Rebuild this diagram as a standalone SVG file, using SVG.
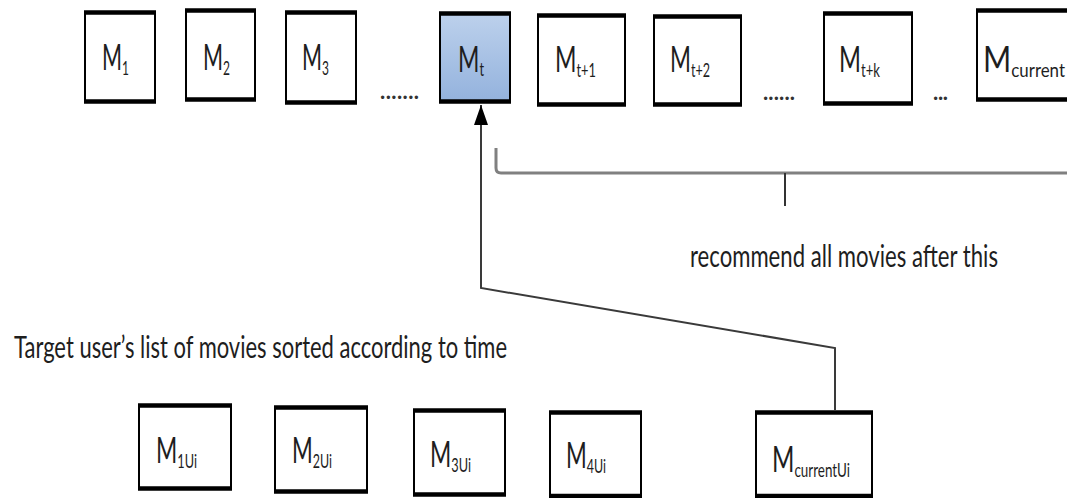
<svg xmlns="http://www.w3.org/2000/svg" width="1067" height="498" viewBox="0 0 1067 498">
  <style>
    .box { fill: #ffffff; stroke: #000000; stroke-width: 2; }
    .bar { fill: none; stroke: #000000; stroke-width: 4.5; }
    .lbl { font-family: Lato, "Open Sans", sans-serif; font-size: 36px; fill: #1e1e1e; }
    .sub { font-size: 20px; }
    .note { font-family: Lato, "Open Sans", sans-serif; font-size: 31px; fill: #1e1e1e; }
    .dots { font-family: Lato, "Open Sans", sans-serif; font-size: 22px; font-weight: bold; fill: #333333; }
    .link { fill: none; stroke: #3a3a3a; stroke-width: 2; }
    .brace { fill: none; stroke: #808080; stroke-width: 3; }
  </style>
  <defs>
    <linearGradient id="blueFill" x1="0" y1="0" x2="0" y2="1">
      <stop offset="0" stop-color="#bdd1ec"/>
      <stop offset="1" stop-color="#93b2dd"/>
    </linearGradient>
    <marker id="arrowHead" viewBox="0 0 20 14" refX="20" refY="7" markerWidth="20" markerHeight="14" markerUnits="userSpaceOnUse" orient="auto">
      <path d="M0 0 L20 7 L0 14 Z" fill="#000000"/>
    </marker>
  </defs>

  <rect width="1067" height="498" fill="#ffffff"/>

  <!-- top row: movie timeline -->
  <g id="m1">
    <rect class="box" x="85" y="12" width="70" height="90"/>
    <path class="bar" d="M84 12.5 H156 M84 101.5 H156"/>
    <text class="lbl" x="102" y="70" textLength="27" lengthAdjust="spacingAndGlyphs">M<tspan class="sub" dy="5">1</tspan></text>
  </g>
  <g id="m2">
    <rect class="box" x="186" y="10" width="69" height="90"/>
    <path class="bar" d="M185 10.5 H256 M185 99.5 H256"/>
    <text class="lbl" x="203" y="70" textLength="27" lengthAdjust="spacingAndGlyphs">M<tspan class="sub" dy="5">2</tspan></text>
  </g>
  <g id="m3">
    <rect class="box" x="286" y="12" width="70" height="91"/>
    <path class="bar" d="M285 12.5 H357 M285 102.5 H357"/>
    <text class="lbl" x="302" y="70" textLength="27" lengthAdjust="spacingAndGlyphs">M<tspan class="sub" dy="5">3</tspan></text>
  </g>
  <text class="dots" x="380" y="99" textLength="39" lengthAdjust="spacing">.......</text>
  <g id="mt">
    <rect class="box" x="440" y="13" width="70" height="89" style="fill:url(#blueFill)"/>
    <path class="bar" d="M439 13.5 H511 M439 101.5 H511"/>
    <text class="lbl" x="458" y="72" textLength="26" lengthAdjust="spacingAndGlyphs">M<tspan class="sub" dy="4">t</tspan></text>
  </g>
  <g id="mt1">
    <rect class="box" x="538" y="15" width="87" height="90"/>
    <path class="bar" d="M537 15.5 H626 M537 104.5 H626"/>
    <text class="lbl" x="555" y="72" textLength="41" lengthAdjust="spacingAndGlyphs">M<tspan class="sub" dy="5">t+1</tspan></text>
  </g>
  <g id="mt2">
    <rect class="box" x="654" y="16" width="87" height="89"/>
    <path class="bar" d="M653 16.5 H742 M653 104.5 H742"/>
    <text class="lbl" x="670" y="72" textLength="40" lengthAdjust="spacingAndGlyphs">M<tspan class="sub" dy="5">t+2</tspan></text>
  </g>
  <text class="dots" x="763" y="100" textLength="32" lengthAdjust="spacing">......</text>
  <g id="mtk">
    <rect class="box" x="824" y="13" width="88" height="91"/>
    <path class="bar" d="M823 13.5 H913 M823 103.5 H913"/>
    <text class="lbl" x="839" y="72" textLength="41" lengthAdjust="spacingAndGlyphs">M<tspan class="sub" dy="5">t+k</tspan></text>
  </g>
  <text class="dots" x="933" y="100" textLength="15" lengthAdjust="spacing">...</text>
  <g id="mcurrent">
    <rect class="box" x="977" y="10" width="92" height="90"/>
    <path class="bar" d="M976 10.5 H1068 M976 99.5 H1068"/>
    <text class="lbl" x="983" y="72" textLength="82" lengthAdjust="spacingAndGlyphs">M<tspan class="sub" dy="5">current</tspan></text>
  </g>

  <!-- bottom row: target user's movies -->
  <g id="m1ui">
    <rect class="box" x="139" y="405" width="92" height="84"/>
    <path class="bar" d="M138 405.5 H232 M138 488.5 H232"/>
    <text class="lbl" x="156" y="463" textLength="41" lengthAdjust="spacingAndGlyphs">M<tspan class="sub" dy="5">1Ui</tspan></text>
  </g>
  <g id="m2ui">
    <rect class="box" x="275" y="407" width="92" height="85"/>
    <path class="bar" d="M274 407.5 H368 M274 491.5 H368"/>
    <text class="lbl" x="292" y="463" textLength="40" lengthAdjust="spacingAndGlyphs">M<tspan class="sub" dy="5">2Ui</tspan></text>
  </g>
  <g id="m3ui">
    <rect class="box" x="414" y="410" width="91" height="84"/>
    <path class="bar" d="M413 410.5 H506 M413 494.5 H506"/>
    <text class="lbl" x="430" y="467" textLength="41" lengthAdjust="spacingAndGlyphs">M<tspan class="sub" dy="5">3Ui</tspan></text>
  </g>
  <g id="m4ui">
    <rect class="box" x="550" y="412" width="91" height="84"/>
    <path class="bar" d="M549 412.5 H642 M549 496 H642"/>
    <text class="lbl" x="566" y="468" textLength="40" lengthAdjust="spacingAndGlyphs">M<tspan class="sub" dy="5">4Ui</tspan></text>
  </g>
  <g id="mcurrentui">
    <rect class="box" x="756" y="412" width="116" height="84"/>
    <path class="bar" d="M755 412.5 H873 M755 496 H873"/>
    <text class="lbl" x="772" y="472" textLength="78" lengthAdjust="spacingAndGlyphs">M<tspan class="sub" dy="5">currentUi</tspan></text>
  </g>

  <!-- connectors -->
  <g id="connectors">
    <path class="link" d="M835 410 V348 L481 288 V105" marker-end="url(#arrowHead)"/>
    <path class="brace" d="M496 148 V168 Q496 173 501 173 H1067"/>
    <path d="M785 173 V206" fill="none" stroke="#333333" stroke-width="2"/>
  </g>

  <!-- captions -->
  <text class="note" x="690" y="267" textLength="308" lengthAdjust="spacingAndGlyphs">recommend all movies after this</text>
  <text class="note" x="14" y="358" textLength="493" lengthAdjust="spacingAndGlyphs">Target user’s list of movies sorted according to time</text>
</svg>
